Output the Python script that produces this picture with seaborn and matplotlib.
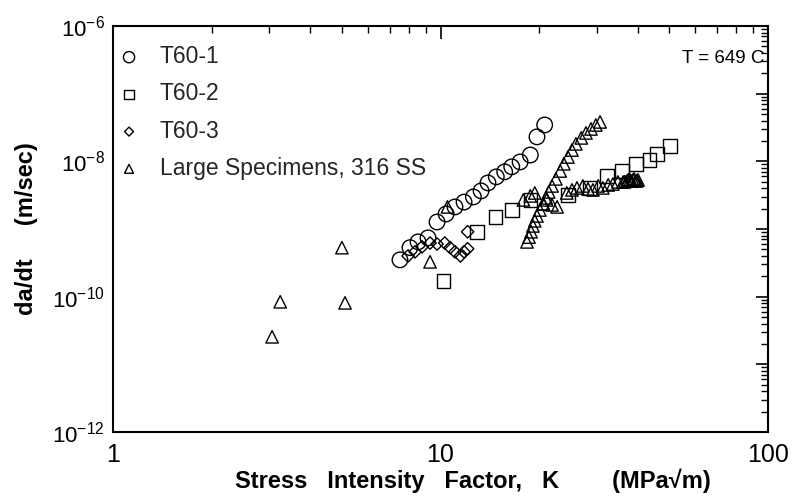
import numpy as np
import pandas as pd
import matplotlib
matplotlib.use("Agg")
import matplotlib.pyplot as plt
import matplotlib.ticker as mticker
import seaborn as sns

# ---- data ----
t601_K = [7.52, 8.07, 8.54, 9.16, 9.76, 10.4, 11.07, 11.8, 12.6, 13.3, 13.96, 14.8, 15.7, 16.5, 17.5, 18.8, 19.7, 20.8]
t601_rate = [3.5e-10, 5.3e-10, 6.45e-10, 7.4e-10, 1.27e-9, 1.67e-9, 2.12e-9, 2.5e-9, 2.98e-9, 3.66e-9, 4.8e-9, 5.9e-9, 7.0e-9, 8.3e-9, 9.8e-9, 1.24e-8, 2.3e-8, 3.45e-8]

t602_K = [10.2, 12.9, 14.7, 16.5, 18.8, 24.5, 28.6, 32.2, 35.8, 39.5, 43.4, 45.8, 50.2]
t602_rate = [1.71e-10, 9.1e-10, 1.51e-9, 1.91e-9, 2.69e-9, 3.19e-9, 4.05e-9, 6.1e-9, 7.2e-9, 9.2e-9, 1.05e-8, 1.29e-8, 1.69e-8]

t603_K = [7.96, 8.36, 8.78, 9.29, 9.76, 10.3, 10.7, 11.07, 11.5, 11.8, 12.1, 12.1]
t603_rate = [4.0e-10, 4.6e-10, 5.45e-10, 6.2e-10, 6.0e-10, 6.2e-10, 5.3e-10, 4.6e-10, 4.0e-10, 4.6e-10, 5.1e-10, 9.1e-10]

large_K = [3.06, 3.24, 5.0, 5.11, 9.29, 10.5,
           18.37, 18.63, 18.9, 19.15, 19.4, 19.7, 20.1, 20.6, 21.0, 21.4, 21.9, 22.5,
           23.2, 23.8, 24.5, 25.2, 25.9, 26.9, 27.8, 28.8, 29.8, 30.7,
           17.9, 18.8, 19.4, 20.6, 21.1, 21.9, 22.7, 24.3, 25.2, 26.1, 27.2, 28.2,
           29.2, 30.3, 31.3, 32.5, 33.6, 34.8, 36.1, 37.1, 37.9, 38.7, 39.5, 40.1,
           36.5, 37.5, 38.3, 39.0, 39.8]
large_rate = [2.55e-11, 8.4e-11, 5.3e-10, 8.1e-11, 3.27e-10, 2.12e-9,
              6.45e-10, 7.6e-10, 9.1e-10, 1.11e-9, 1.32e-9, 1.56e-9, 1.91e-9, 2.35e-9, 2.88e-9, 3.53e-9, 4.33e-9, 5.5e-9,
              7.2e-9, 9.2e-9, 1.16e-8, 1.47e-8, 1.81e-8, 2.22e-8, 2.63e-8, 3.01e-8, 3.45e-8, 3.82e-8,
              2.69e-9, 3.08e-9, 3.41e-9, 2.35e-9, 2.69e-9, 2.27e-9, 2.12e-9, 3.41e-9, 3.78e-9, 4.05e-9, 4.33e-9, 3.91e-9,
              3.78e-9, 4.33e-9, 4.05e-9, 4.48e-9, 4.63e-9, 4.96e-9, 4.96e-9, 5.14e-9, 5.31e-9, 5.31e-9, 5.14e-9, 5.31e-9,
              5.0e-9, 5.4e-9, 5.1e-9, 5.5e-9, 5.2e-9]

series_names = ["T60-1", "T60-2", "T60-3", "Large Specimens, 316 SS"]
ytick_vals = [1e-12, 1e-11, 1e-10, 1e-9, 1e-8, 1e-7, 1e-6]
ytick_labels = ["10$^{-12}$", "", "10$^{-10}$", "", "10$^{-8}$", "", "10$^{-6}$"]
xtick_vals = [1, 10, 100]
xtick_labels = ["1", "10", "100"]

df = pd.concat([
    pd.DataFrame({"K": t601_K, "rate": t601_rate, "series": series_names[0]}),
    pd.DataFrame({"K": t602_K, "rate": t602_rate, "series": series_names[1]}),
    pd.DataFrame({"K": t603_K, "rate": t603_rate, "series": series_names[2]}),
    pd.DataFrame({"K": large_K, "rate": large_rate, "series": series_names[3]}),
], ignore_index=True)

sns.set_theme(style="white")
plt.rcParams["font.family"] = ["Liberation Sans", "DejaVu Sans"]
plt.rcParams["mathtext.fontset"] = "custom"
plt.rcParams["mathtext.rm"] = "Liberation Sans"
plt.rcParams["mathtext.it"] = "Liberation Sans"
plt.rcParams["mathtext.bf"] = "Liberation Sans:bold"

fig = plt.figure(figsize=(7.94, 5.0), dpi=100)
ax = fig.add_axes([0.1423, 0.136, 0.825, 0.812])

markers = {series_names[0]: "o", series_names[1]: "s", series_names[2]: "D", series_names[3]: "^"}
sizes = {series_names[0]: 125, series_names[1]: 95, series_names[2]: 40, series_names[3]: 80}
for name in series_names:
    sub = df[df["series"] == name]
    sns.scatterplot(data=sub, x="K", y="rate", marker=markers[name], s=sizes[name],
                    facecolors="none", edgecolor="black", linewidth=1.0, ax=ax,
                    label=name, legend=False, color="black")

ax.set_xscale("log")
ax.set_yscale("log")
ax.set_xlim(1, 100)
ax.set_ylim(1e-12, 1e-6)

ax.set_yticks(ytick_vals)
ax.set_yticklabels(ytick_labels)
ax.yaxis.set_minor_locator(mticker.LogLocator(base=10, subs=np.arange(2, 10), numticks=20))
ax.set_xticks(xtick_vals)
ax.set_xticklabels(xtick_labels)
ax.xaxis.set_minor_locator(mticker.LogLocator(base=10, subs=np.arange(2, 10), numticks=20))
ax.xaxis.set_minor_formatter(mticker.NullFormatter())
ax.yaxis.set_minor_formatter(mticker.NullFormatter())

ax.tick_params(which="both", direction="in", top=True, right=True, color="black")
ax.tick_params(which="major", length=9, width=1.2)
ax.tick_params(which="minor", length=5, width=1.0)
ax.tick_params(axis="x", which="major", labelsize=18, pad=8)
ax.tick_params(axis="y", which="major", labelsize=16, pad=6)
for lab in ax.get_xticklabels() + ax.get_yticklabels():
    lab.set_color("black")

for sp in ax.spines.values():
    sp.set_color("black")
    sp.set_linewidth(1.5)

ax.set_xlabel("Stress   Intensity   Factor,   K        (MPa\u221am)", fontsize=17,
              fontweight="bold", color="black", labelpad=3)
ax.xaxis.set_label_coords(0.55, -0.09)
ax.set_ylabel("da/dt     (m/sec)", fontsize=17, fontweight="bold", color="black", labelpad=10)

leg = ax.legend(loc="upper left", frameon=False, fontsize=16.5, handletextpad=0.85,
                borderaxespad=0.0, borderpad=0.2, handlelength=1.0,
                labelspacing=0.62, markerscale=0.72,
                bbox_to_anchor=(0.0, 0.964))
for h in leg.legend_handles:
    h.set_facecolor("none")
    h.set_edgecolor("black")

ax.text(0.995, 0.92, "T = 649 C", transform=ax.transAxes, ha="right", va="center",
        fontsize=13.5, color="black")

fig.savefig("out.png", dpi=100)
